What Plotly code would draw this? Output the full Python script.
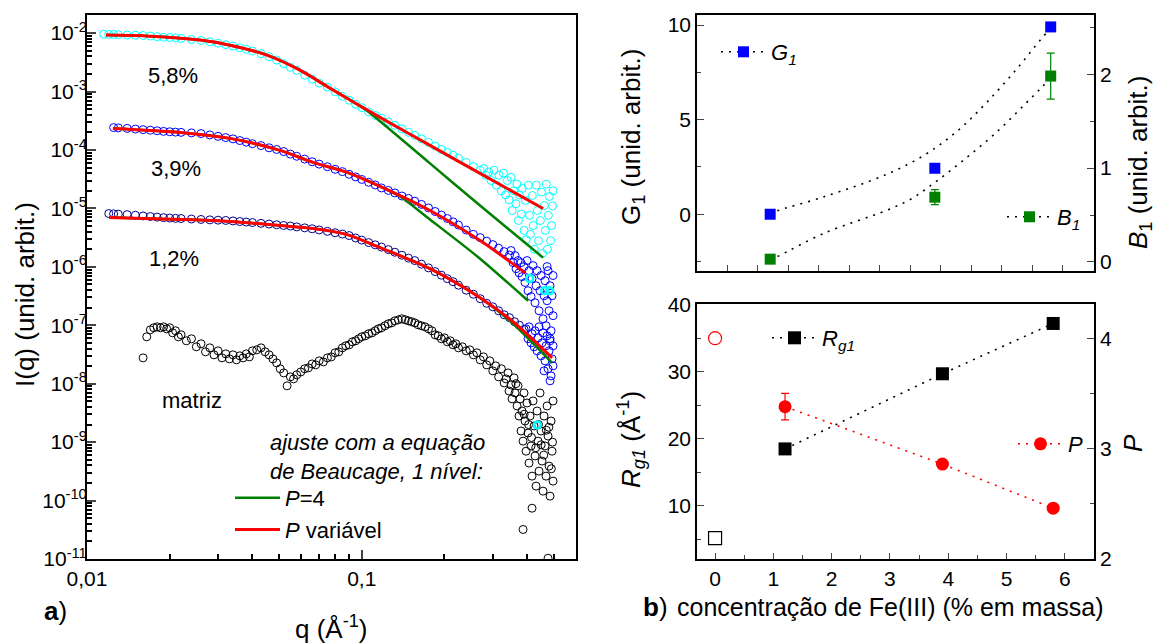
import plotly.graph_objects as go

# ================= LEFT PANEL: SAXS curves =================
q_grid = [0.0115, 0.012, 0.0125, 0.013, 0.014, 0.015, 0.016, 0.017, 0.018, 0.019,
          0.020, 0.021, 0.022, 0.024, 0.026, 0.028, 0.030, 0.032, 0.034, 0.036,
          0.038, 0.040, 0.043, 0.046, 0.049, 0.052, 0.055, 0.058, 0.062, 0.066,
          0.070, 0.075, 0.080, 0.085, 0.090, 0.095, 0.100, 0.106, 0.112, 0.118,
          0.125, 0.132, 0.140, 0.148, 0.156, 0.165, 0.175, 0.185, 0.195, 0.205,
          0.215, 0.225, 0.240, 0.255, 0.270, 0.285, 0.300, 0.315, 0.330, 0.345,
          0.360, 0.375, 0.390]

# 5,8 % (starts at q_grid[0])
I_58 = [9.6e-3, 9.5e-3, 9.5e-3, 9.4e-3, 9.3e-3, 9.2e-3, 9.1e-3, 8.9e-3, 8.7e-3, 8.5e-3,
        8.4e-3, 8.3e-3, 8.1e-3, 7.8e-3, 7.5e-3, 7.1e-3, 6.7e-3, 6.35e-3, 6.0e-3, 5.6e-3,
        5.3e-3, 4.95e-3, 4.45e-3, 3.95e-3, 3.45e-3, 3.0e-3, 2.6e-3, 2.3e-3, 1.9e-3, 1.63e-3,
        1.39e-3, 1.19e-3, 9.9e-4, 8.3e-4, 7.1e-4, 6.05e-4, 5.3e-4, 4.5e-4, 3.9e-4, 3.5e-4,
        3.03e-4, 2.64e-4, 2.3e-4, 2.0e-4, 1.78e-4, 1.55e-4, 1.35e-4, 1.17e-4, 1.02e-4, 9.1e-5,
        8.1e-5, 7.2e-5, 6.1e-5, 5.2e-5, 4.5e-5]
q_58_tail = [0.278, 0.283, 0.290, 0.296, 0.303, 0.309, 0.316, 0.322, 0.328, 0.334,
             0.339, 0.344, 0.350, 0.353, 0.358, 0.364, 0.367, 0.372, 0.375, 0.381,
             0.384, 0.390, 0.394, 0.397, 0.404, 0.408, 0.411, 0.418, 0.421, 0.425,
             0.432, 0.436, 0.440, 0.447, 0.451, 0.455, 0.462, 0.466, 0.470, 0.474,
             0.478, 0.482, 0.487, 0.491, 0.495, 0.497]
I_58_tail = [4.8e-5, 3.7e-5, 4.2e-5, 3.0e-5, 4.5e-5, 2.5e-5, 3.7e-5, 2.0e-5, 4.0e-5, 1.7e-5,
             3.0e-5, 1.4e-5, 3.4e-5, 9.2e-6, 2.0e-5, 1.2e-5, 2.6e-5, 6.2e-6, 1.7e-5, 8.0e-6,
             2.2e-5, 4.2e-6, 1.37e-5, 2.9e-6, 2.5e-5, 7.6e-6, 3.6e-6, 1.66e-5, 5.1e-6, 2.0e-6,
             2.5e-5, 9.2e-6, 2.8e-6, 6.2e-6, 1.9e-5, 1.7e-6, 1.12e-5, 4.2e-6, 2.6e-5, 2.0e-6,
             7.6e-6, 1.6e-5, 2.8e-6, 5.1e-6, 1.1e-5, 2.0e-5]

# 3,9 % (starts at q_grid[2])
I_39 = [2.42e-4, 2.39e-4, 2.34e-4, 2.28e-4, 2.23e-4, 2.18e-4, 2.13e-4, 2.08e-4, 2.05e-4, 2.02e-4,
        2.0e-4, 1.96e-4, 1.91e-4, 1.81e-4, 1.71e-4, 1.63e-4, 1.55e-4, 1.45e-4, 1.36e-4, 1.28e-4,
        1.19e-4, 1.09e-4, 1.02e-4, 9.4e-5, 8.5e-5, 7.8e-5, 6.98e-5, 6.28e-5, 5.73e-5, 5.17e-5,
        4.67e-5, 4.26e-5, 3.84e-5, 3.46e-5, 3.13e-5, 2.8e-5, 2.52e-5, 2.24e-5, 2.03e-5, 1.84e-5,
        1.63e-5, 1.48e-5, 1.33e-5, 1.17e-5, 1.02e-5, 8.85e-6, 7.7e-6, 6.71e-6, 5.89e-6, 5.19e-6,
        4.26e-6, 3.6e-6, 3.16e-6, 2.76e-6, 2.4e-6, 2.09e-6, 1.82e-6, 1.59e-6]
q_39_tail = [0.3496, 0.3555, 0.3615, 0.3646, 0.3707, 0.3738, 0.3802, 0.3834, 0.3898, 0.3931,
             0.3997, 0.4031, 0.4065, 0.4134, 0.4169, 0.4204, 0.4275, 0.4311, 0.4348, 0.4421,
             0.4458, 0.4496, 0.4572, 0.4610, 0.4649, 0.4688, 0.4728, 0.4768, 0.4808, 0.4848,
             0.4889, 0.4930, 0.4971, 0.4971, 0.4848, 0.4728]
I_39_tail = [1.9e-6, 1.18e-6, 1.56e-6, 9.3e-7, 1.28e-6, 7.9e-7, 1.18e-6, 6.8e-7, 1.01e-6, 5.4e-7,
             1.28e-6, 3.9e-7, 8.6e-7, 3.1e-7, 6.3e-7, 1.05e-6, 2.43e-7, 4.75e-7, 8.6e-7, 1.77e-7,
             3.9e-7, 7.1e-7, 1.29e-7, 3.2e-7, 5.8e-7, 9.8e-8, 2.63e-7, 8.6e-7, 1.77e-7, 4.75e-7,
             8.05e-8, 3.2e-7, 1.46e-7, 7.1e-7, 5.9e-8, 1.01e-6]

# 1,2 % (starts at q_grid[1])
I_12 = [8.17e-6, 8.07e-6, 7.98e-6, 7.83e-6, 7.64e-6, 7.43e-6, 7.26e-6, 7.09e-6, 6.95e-6, 6.84e-6,
        6.76e-6, 6.71e-6, 6.58e-6, 6.47e-6, 6.37e-6, 6.29e-6, 6.22e-6, 6.1e-6, 5.96e-6, 5.84e-6,
        5.73e-6, 5.55e-6, 5.40e-6, 5.25e-6, 5.11e-6, 4.99e-6, 4.83e-6, 4.65e-6, 4.48e-6, 4.28e-6,
        4.05e-6, 3.83e-6, 3.64e-6, 3.43e-6, 3.12e-6, 2.87e-6, 2.6e-6, 2.38e-6, 2.18e-6, 1.97e-6,
        1.78e-6, 1.58e-6, 1.41e-6, 1.28e-6, 1.11e-6, 9.6e-7, 8.3e-7, 7.2e-7, 6.27e-7, 5.57e-7,
        4.85e-7, 3.98e-7, 3.4e-7, 2.85e-7, 2.38e-7, 2.07e-7, 1.77e-7, 1.51e-7, 1.35e-7, 1.15e-7,
        1.0e-7, 8.5e-8]
q_12_tail = [0.3964, 0.4031, 0.4065, 0.4134, 0.4169, 0.4240, 0.4275, 0.4348, 0.4384, 0.4421,
             0.4496, 0.4534, 0.4572, 0.4649, 0.4688, 0.4728, 0.4768, 0.4808, 0.4848, 0.4889,
             0.4930, 0.4971, 0.4971, 0.4848, 0.4610]
I_12_tail = [8.7e-8, 5.9e-8, 9.4e-8, 5.0e-8, 7.15e-8, 4.28e-8, 8.05e-8, 3.65e-8, 6.1e-8, 9.4e-8,
             3.0e-8, 5.0e-8, 7.4e-8, 2.46e-8, 4.45e-8, 6.6e-8, 1.8e-8, 3.65e-8, 5.42e-8, 1.36e-8,
             2.66e-8, 4.45e-8, 2.02e-8, 1.12e-8, 1.66e-8]

# matriz
q_matriz = [0.016, 0.0165, 0.017, 0.0175, 0.018, 0.0185, 0.019, 0.0195, 0.020, 0.0205,
            0.021, 0.0215, 0.022, 0.023, 0.024, 0.025, 0.026, 0.027, 0.028, 0.029,
            0.030, 0.031, 0.032, 0.033, 0.034, 0.035, 0.036, 0.037, 0.038, 0.039,
            0.040, 0.0415, 0.043, 0.0445, 0.046, 0.0475, 0.049, 0.0505, 0.052, 0.0535,
            0.055, 0.0565, 0.058, 0.060, 0.062, 0.064, 0.066, 0.068, 0.070, 0.0725,
            0.075, 0.0775, 0.080, 0.0825, 0.085, 0.0875, 0.090, 0.0925, 0.095, 0.0975,
            0.100, 0.103, 0.106, 0.109, 0.112, 0.115, 0.118, 0.1215, 0.125, 0.1285,
            0.132, 0.136, 0.140, 0.144, 0.148, 0.152, 0.156, 0.1605, 0.165, 0.170,
            0.175, 0.180, 0.185, 0.190, 0.195, 0.200, 0.205, 0.210, 0.215, 0.220,
            0.225, 0.2325, 0.240, 0.2475, 0.255, 0.2625, 0.270, 0.2775, 0.285, 0.2925,
            0.300, 0.3075, 0.315, 0.3225, 0.330]
I_matriz = [2.77e-8, 6.35e-8, 8.37e-8, 9.06e-8, 9.4e-8, 9.06e-8, 9.4e-8, 8.7e-8, 9.06e-8, 7.43e-8,
            8.05e-8, 6.35e-8, 6.87e-8, 5.42e-8, 5.87e-8, 4.28e-8, 4.82e-8, 3.51e-8, 4.11e-8, 3.12e-8,
            3.65e-8, 2.77e-8, 3.24e-8, 2.66e-8, 3.12e-8, 2.56e-8, 3.0e-8, 2.77e-8, 3.24e-8, 2.88e-8,
            3.65e-8, 3.8e-8, 4.11e-8, 3.51e-8, 3.12e-8, 2.66e-8, 2.27e-8, 1.8e-8, 1.53e-8, 9.2e-9,
            1.31e-8, 1.21e-8, 1.42e-8, 1.59e-8, 1.8e-8, 1.87e-8, 2.18e-8, 2.1e-8, 2.46e-8, 2.36e-8,
            2.77e-8, 2.88e-8, 3.38e-8, 3.51e-8, 4.11e-8, 4.45e-8, 4.63e-8, 5.21e-8, 5.42e-8, 5.87e-8,
            6.35e-8, 6.6e-8, 7.15e-8, 7.43e-8, 8.05e-8, 8.7e-8, 9.06e-8, 9.8e-8, 1.06e-7, 1.10e-7,
            1.19e-7, 1.24e-7, 1.29e-7, 1.24e-7, 1.19e-7, 1.15e-7, 1.10e-7, 1.02e-7, 9.8e-8, 9.4e-8,
            8.7e-8, 8.05e-8, 6.87e-8, 6.6e-8, 5.87e-8, 6.1e-8, 5.21e-8, 5.42e-8, 4.63e-8, 4.82e-8,
            4.11e-8, 4.28e-8, 3.65e-8, 3.8e-8, 3.12e-8, 3.38e-8, 2.56e-8, 2.88e-8, 2.1e-8, 2.46e-8,
            1.66e-8, 2.02e-8, 1.31e-8, 1.8e-8, 1.03e-8]
q_matriz_tail = [0.3353, 0.3410, 0.3438, 0.3496, 0.3526, 0.3585, 0.3615, 0.3677, 0.3707, 0.3738,
                 0.3770, 0.3802, 0.3834, 0.3866, 0.3898, 0.3931, 0.3964, 0.3997, 0.4031, 0.4065,
                 0.4100, 0.4134, 0.4169, 0.4204, 0.4240, 0.4275, 0.4311, 0.4348, 0.4384, 0.4421,
                 0.4458, 0.4496, 0.4534, 0.4572, 0.4610, 0.4649, 0.4688, 0.4728, 0.4768, 0.4808,
                 0.4848, 0.4889, 0.4930, 0.4971, 0.4971, 0.3866, 0.4169, 0.4768,
                 0.3640, 0.3900, 0.4150, 0.4400, 0.4600, 0.4800, 0.4950, 0.4900, 0.4700, 0.4500,
                 0.4300, 0.4050]
I_matriz_tail = [1.21e-8, 1.53e-8, 7.5e-9, 9.5e-9, 5.5e-9, 1.26e-8, 6.95e-9, 4.16e-9, 9.2e-9, 2.8e-9,
                 5.5e-9, 1.55e-9, 3.41e-9, 1.04e-9, 6.95e-9, 2.3e-9, 7.0e-10, 4.68e-9, 1.43e-9, 4.38e-10,
                 2.8e-9, 8.6e-10, 2.62e-10, 5.07e-9, 1.89e-9, 5.8e-10, 1.77e-10, 3.41e-9, 1.04e-9, 3.19e-10,
                 6.95e-9, 1.55e-9, 4.74e-10, 1.45e-10, 2.8e-9, 8.6e-10, 2.62e-10, 4.16e-9, 1.27e-9, 3.89e-10,
                 1.19e-10, 2.3e-9, 7.0e-10, 2.15e-10, 5.07e-9, 3.2e-11, 7.4e-11, 1.03e-11,
                 1.0e-8, 3.0e-9, 1.2e-9, 2.0e-9, 6.0e-10, 1.8e-9, 1.0e-9, 3.5e-10, 1.6e-9, 9.0e-10,
                 8.0e-10, 2.0e-9]
# stray bright cyan points
q_spots = [0.4086, 0.4634, 0.4832, 0.4358]
I_spots = [6.3e-7, 3.9e-7, 3.9e-7, 1.96e-9]

# Beaucage fits: P variavel (red) and P = 4 (green)
q_fit58_var = [0.01173, 0.01696, 0.02578, 0.03316, 0.0452, 0.05962, 0.07665, 0.08842, 0.1166, 0.1772, 0.2696, 0.4571]
I_fit58_var = [9.24e-3, 8.88e-3, 7.59e-3, 6.22e-3, 4.2e-3, 2.32e-3, 1.14e-3, 7.68e-4, 3.62e-4, 1.2e-4, 3.97e-5, 9.96e-6]
q_fit58_p4 = [0.01173, 0.01696, 0.02578, 0.03316, 0.0452, 0.05962, 0.07665, 0.08842, 0.1028, 0.1166, 0.1772, 0.2696, 0.4571]
I_fit58_p4 = [9.24e-3, 8.88e-3, 7.59e-3, 6.22e-3, 4.2e-3, 2.32e-3, 1.14e-3, 7.68e-4, 4.97e-4, 3.1e-4, 5.89e-5, 1.12e-5, 1.44e-6]
q_fit39_var = [0.01243, 0.02182, 0.03316, 0.05043, 0.06649, 0.08842, 0.1166, 0.1772, 0.2696, 0.3931]
I_fit39_var = [2.34e-4, 2.0e-4, 1.58e-4, 9.85e-5, 6.13e-5, 4.13e-5, 2.38e-5, 9.2e-6, 2.81e-6, 7.94e-7]
q_fit39_p4 = [0.01243, 0.02182, 0.03316, 0.05043, 0.06649, 0.08842, 0.1166, 0.1378, 0.1772, 0.2696, 0.4031]
I_fit39_p4 = [2.34e-4, 2.0e-4, 1.58e-4, 9.85e-5, 6.13e-5, 4.13e-5, 2.38e-5, 1.6e-5, 6.46e-6, 1.38e-6, 2.63e-7]
q_fit12_var = [0.01203, 0.02182, 0.03316, 0.05043, 0.06649, 0.08842, 0.1166, 0.1772, 0.2696, 0.3555, 0.4930]
I_fit12_var = [6.98e-6, 6.46e-6, 5.96e-6, 5.09e-6, 4.52e-6, 3.56e-6, 2.13e-6, 9.3e-7, 2.96e-7, 1.15e-7, 2.77e-8]
q_fit12_p4 = [0.01203, 0.02182, 0.03316, 0.05043, 0.06649, 0.08842, 0.1166, 0.1772, 0.2696, 0.3555, 0.4930]
I_fit12_p4 = [6.98e-6, 6.46e-6, 5.96e-6, 5.09e-6, 4.52e-6, 3.56e-6, 2.13e-6, 9.3e-7, 2.96e-7, 1.06e-7, 2.27e-8]

x_tick_vals = [0.01, 0.1]
x_tick_text = ["0,01", "0,1"]
y_exponents = [-11, -10, -9, -8, -7, -6, -5, -4, -3, -2]

# ================= RIGHT PANELS =================
conc = [1.2, 3.9, 5.8]
G1 = [0.0, 2.43, 9.9]
B1 = [0.03, 0.69, 1.98]
B1_err = [0.0, 0.08, 0.245]
Rg1 = [18.5, 29.7, 37.2]
P_val = [3.38, 2.86, 2.46]
P_err = [0.12, 0.0, 0.0]
conc_matriz = [0.0]
Rg1_matriz = [5.2]
P_matriz = [4.0]
# dotted guide curves
G1_guide_x = [1.2, 1.31, 2.08, 3.12, 3.75, 4.27, 4.76, 5.25, 5.63, 5.82]
G1_guide_y = [0.0, 0.17, 0.92, 2.12, 3.17, 4.40, 5.94, 7.71, 9.21, 9.91]
B1_guide_x = [1.2, 1.31, 2.08, 3.12, 3.5, 3.88, 4.37, 4.89, 5.39, 5.66, 5.82]
B1_guide_y = [0.03, 0.056, 0.305, 0.553, 0.667, 0.837, 1.085, 1.369, 1.688, 1.865, 1.979]

FONT = "Liberation Sans, Arial, sans-serif"
CYAN = "#00FFFF"
BLUE = "#0000FF"
NAVY = "#00008B"
RED = "#FF0000"
GREEN = "#008000"
DOT = "2px,6px"

fig = go.Figure()

def circles(x, y, color, size=8, lw=1.0):
    fig.add_trace(go.Scatter(x=x, y=y, mode="markers", showlegend=False,
                             marker=dict(symbol="circle-open", size=size, color=color,
                                         line=dict(width=lw, color=color)),
                             xaxis="x", yaxis="y"))

circles(q_matriz, I_matriz, "black")
circles(q_matriz_tail, I_matriz_tail, "black")
circles(q_grid[1:], I_12, NAVY)
circles(q_12_tail, I_12_tail, BLUE)
circles(q_grid[2:], I_39, BLUE)
circles(q_39_tail, I_39_tail, BLUE)
circles(q_grid, I_58, CYAN)
circles(q_58_tail, I_58_tail, CYAN)
circles(q_spots, I_spots, CYAN, size=7, lw=2.5)

def fitline(x, y, color, width, name, show):
    fig.add_trace(go.Scatter(x=x, y=y, mode="lines", name=name, showlegend=show,
                             legend="legend",
                             line=dict(color=color, width=width, shape="spline", smoothing=0.8),
                             xaxis="x", yaxis="y"))

fitline(q_fit58_p4, I_fit58_p4, GREEN, 2.5, "<i>P</i>=4", True)
fitline(q_fit39_p4, I_fit39_p4, GREEN, 2.5, "<i>P</i>=4", False)
fitline(q_fit12_p4, I_fit12_p4, GREEN, 2.5, "<i>P</i>=4", False)
fitline(q_fit58_var, I_fit58_var, RED, 3, "<i>P</i> variável", True)
fitline(q_fit39_var, I_fit39_var, RED, 3, "<i>P</i> variável", False)
fitline(q_fit12_var, I_fit12_var, RED, 3, "<i>P</i> variável", False)

# ---- top right: G1 & B1 ----
fig.add_trace(go.Scatter(x=G1_guide_x, y=G1_guide_y, mode="lines", showlegend=False,
                         line=dict(color="black", width=1.6, dash=DOT, shape="spline"),
                         xaxis="x2", yaxis="y2"))
fig.add_trace(go.Scatter(x=B1_guide_x, y=B1_guide_y, mode="lines", showlegend=False,
                         line=dict(color="black", width=1.6, dash=DOT, shape="spline"),
                         xaxis="x2", yaxis="y3"))
fig.add_trace(go.Scatter(x=conc, y=G1, mode="markers", showlegend=False,
                         marker=dict(symbol="square", size=11, color=BLUE),
                         xaxis="x2", yaxis="y2"))
fig.add_trace(go.Scatter(x=conc, y=B1, mode="markers", showlegend=False,
                         marker=dict(symbol="square", size=11, color=GREEN),
                         error_y=dict(type="data", array=B1_err, color=GREEN, thickness=1.2, width=4),
                         xaxis="x2", yaxis="y3"))
# legend entries
fig.add_trace(go.Scatter(x=[None], y=[None], mode="lines+markers", name="<i>G</i><sub><i>1</i></sub>",
                         legend="legend2", line=dict(color="black", width=1.6, dash=DOT),
                         marker=dict(symbol="square", size=11, color=BLUE), xaxis="x2", yaxis="y2"))
fig.add_trace(go.Scatter(x=[None], y=[None], mode="lines+markers", name="<i>B</i><sub><i>1</i></sub>",
                         legend="legend3", line=dict(color="black", width=1.6, dash=DOT),
                         marker=dict(symbol="square", size=11, color=GREEN), xaxis="x2", yaxis="y3"))

# ---- bottom right: Rg1 & P ----
fig.add_trace(go.Scatter(x=conc, y=Rg1, mode="lines+markers", showlegend=False,
                         line=dict(color="black", width=1.6, dash=DOT),
                         marker=dict(symbol="square", size=13, color="black"),
                         xaxis="x3", yaxis="y4"))
fig.add_trace(go.Scatter(x=conc, y=P_val, mode="lines+markers", showlegend=False,
                         line=dict(color=RED, width=1.6, dash=DOT),
                         marker=dict(symbol="circle", size=13, color=RED),
                         error_y=dict(type="data", array=P_err, color=RED, thickness=1.2, width=4),
                         xaxis="x3", yaxis="y5"))
fig.add_trace(go.Scatter(x=conc_matriz, y=Rg1_matriz, mode="markers", showlegend=False,
                         marker=dict(symbol="square-open", size=13, color="black", line=dict(width=1.2)),
                         xaxis="x3", yaxis="y4"))
fig.add_trace(go.Scatter(x=conc_matriz, y=P_matriz, mode="markers", showlegend=False,
                         marker=dict(symbol="circle-open", size=13, color=RED, line=dict(width=1.2)),
                         xaxis="x3", yaxis="y5"))
fig.add_trace(go.Scatter(x=[None], y=[None], mode="lines+markers", name="<i>R</i><sub><i>g1</i></sub>",
                         legend="legend4", line=dict(color="black", width=1.6, dash=DOT),
                         marker=dict(symbol="square", size=13, color="black"), xaxis="x3", yaxis="y4"))
fig.add_trace(go.Scatter(x=[None], y=[None], mode="lines+markers", name="<i>P</i>",
                         legend="legend5", line=dict(color=RED, width=1.6, dash=DOT),
                         marker=dict(symbol="circle", size=13, color=RED), xaxis="x3", yaxis="y5"))

W, H = 1156, 643
def px(x): return x / W
def py(y): return 1 - y / H

tickfont = dict(family=FONT, size=21, color="black")
ax_common = dict(showgrid=False, zeroline=False, showline=True, ticks="inside",
                 tickfont=tickfont, automargin=False, linecolor="black")

minor_x_log = [m * 0.01 for m in range(2, 10)] + [m * 0.1 for m in range(2, 6)]
minor_y_log = [m * 10.0 ** e for e in y_exponents[:-1] for m in range(2, 10)] + [0.02]

fig.update_layout(
    width=W, height=H, margin=dict(l=0, r=0, t=0, b=0),
    paper_bgcolor="white", plot_bgcolor="white",
    font=dict(family=FONT, size=21, color="black"),
    xaxis=dict(**ax_common, type="log", domain=[px(87), px(576)], range=[-2, -0.22],
               tickvals=x_tick_vals, ticktext=x_tick_text, ticklen=9, tickwidth=1.5,
               linewidth=2, mirror=True, anchor="y",
               minor=dict(tickvals=minor_x_log, ticks="inside", ticklen=5, tickcolor="black")),
    yaxis=dict(**ax_common, type="log", domain=[py(559), py(15)], range=[-11, -1.69],
               tickvals=[10.0 ** e for e in y_exponents],
               ticktext=["10<sup>%d</sup>" % e for e in y_exponents],
               ticklen=9, tickwidth=1.5, linewidth=2, mirror=True, anchor="x",
               ticklabelstandoff=-6,
               minor=dict(tickvals=minor_y_log, ticks="inside", ticklen=5, tickcolor="black")),
    xaxis2=dict(**ax_common, domain=[px(697), px(1094)], range=[0, 6.51], anchor="y2",
                tickvals=[1, 2, 3, 4, 5, 6], showticklabels=False, ticklen=6, linewidth=1.5,
                mirror=True, minor=dict(dtick=0.5, tick0=0, ticks="inside", ticklen=6)),
    yaxis2=dict(**ax_common, domain=[py(271), py(15)], range=[-3.0, 10.53], anchor="x2",
                tickvals=[0, 5, 10], ticklen=7, linewidth=1.5,
                minor=dict(dtick=2.5, tick0=0, ticks="inside", ticklen=4)),
    yaxis3=dict(**ax_common, overlaying="y2", side="right", range=[-0.096, 2.63], anchor="x2",
                tickvals=[0, 1, 2], ticklen=7, linewidth=1.5,
                minor=dict(dtick=0.5, tick0=0, ticks="inside", ticklen=4)),
    xaxis3=dict(**ax_common, domain=[px(697), px(1094)], range=[-0.31, 6.5], anchor="y4",
                tickvals=[0, 1, 2, 3, 4, 5, 6], ticklen=6, linewidth=1.5, mirror=True,
                minor=dict(dtick=0.5, tick0=0, ticks="inside", ticklen=4)),
    yaxis4=dict(**ax_common, domain=[py(559), py(304)], range=[2.09, 40.1], anchor="x3",
                tickvals=[10, 20, 30, 40], ticklen=7, linewidth=1.5,
                minor=dict(dtick=5, tick0=0, ticks="inside", ticklen=4)),
    yaxis5=dict(**ax_common, overlaying="y4", side="right", range=[2, 4.31], anchor="x3",
                tickvals=[2, 3, 4], ticklen=7, linewidth=1.5,
                minor=dict(dtick=0.5, tick0=0, ticks="inside", ticklen=4)),
)

leg_common = dict(bgcolor="rgba(0,0,0,0)", font=dict(family=FONT, size=22, color="black"),
                  xanchor="left", yanchor="middle", borderwidth=0, itemwidth=45)
fig.update_layout(
    legend=dict(**leg_common, x=px(230), y=py(514), tracegroupgap=0),
    legend2=dict(**leg_common, x=px(716), y=py(52)),
    legend3=dict(**leg_common, x=px(1002), y=py(217)),
    legend4=dict(**leg_common, x=px(767), y=py(338)),
    legend5=dict(**leg_common, x=px(1013), y=py(444)),
)

def ann(text, x, y, size=22, angle=0, xanchor="center", align="center"):
    fig.add_annotation(text=text, x=px(x), y=py(y), xref="paper", yref="paper",
                       showarrow=False, textangle=angle, xanchor=xanchor, yanchor="middle",
                       align=align, font=dict(family=FONT, size=size, color="black"))

TS = 26
ann("5,8%", 173, 75)
ann("3,9%", 176, 168)
ann("1,2%", 174, 258)
ann("matriz", 192, 400)
ann("<i>ajuste com a equação<br>de Beaucage, 1 nível:</i>", 268, 457, xanchor="left", align="left")
ann("I(q) (unid. arbit.)", 25, 295, size=TS, angle=-90)
ann("q (Å<sup>-1</sup>)", 331, 627, size=TS)
ann("<b>a</b>)", 55, 611, size=26)
ann("<b>b</b>)", 655, 607, size=26)
ann("concentração de Fe(III) (% em massa)", 890, 607, size=25)
ann("G<sub>1</sub> (unid. arbit.)", 632, 137, size=TS, angle=-90)
ann("<i>B</i><sub>1</sub> (unid. arbit.)", 1139, 163, size=TS, angle=-90)
ann("<i>R</i><sub><i>g1</i></sub> (Å<sup>-1</sup>)", 631, 440, size=TS, angle=-90)
ann("<i>P</i>", 1133, 443, size=TS, angle=-90)

fig.write_html("out.html")
